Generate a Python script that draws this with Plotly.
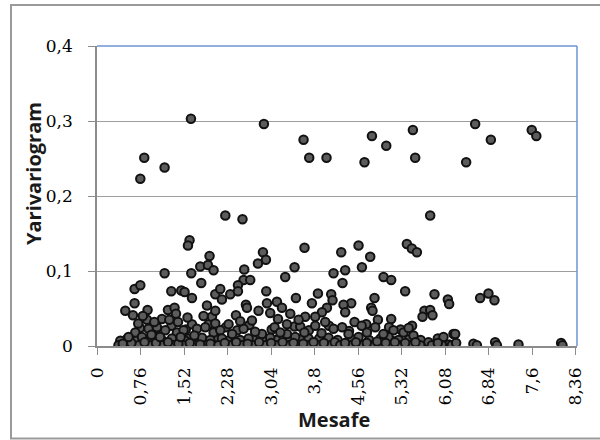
import plotly.graph_objects as go

# ---- data ----
high_x = [0.756, 0.825, 1.18, 1.64, 2.914, 3.606, 2.24, 2.54, 3.705, 4.007, 4.67, 4.80,
          5.05, 5.515, 5.555, 5.817, 6.445, 6.602, 6.876, 7.59, 7.67]
high_y = [0.223, 0.251, 0.238, 0.303, 0.296, 0.275, 0.174, 0.169, 0.251, 0.251, 0.245, 0.280,
          0.267, 0.288, 0.251, 0.174, 0.245, 0.296, 0.275, 0.288, 0.280]

r1_x = [1.616, 1.588, 1.965, 1.803, 1.937, 2.035, 1.646, 1.18, 1.82, 0.656, 0.756, 1.297,
        1.471, 1.529, 1.658, 2.065, 0.656, 1.92, 0.494, 0.628, 0.883, 1.239, 1.354, 1.379,
        0.873, 1.134, 1.262, 1.414, 1.658, 2.007, 2.065, 0.668, 0.90, 1.047, 1.192, 1.396,
        1.511, 1.745, 1.89, 2.035, 0.407, 0.785, 0.988, 1.309, 1.541, 1.833, 1.977,
        0.375, 0.524, 0.726, 0.93, 1.134, 1.337, 1.511, 1.716, 1.89, 2.065,
        0.45, 0.60, 0.83, 1.03, 1.24, 1.42, 1.62, 1.80, 1.98, 0.72, 0.95, 1.10, 1.46,
        1.70, 0.55, 0.80, 1.00, 1.58, 1.86]
r1_y = [0.141, 0.134, 0.120, 0.106, 0.108, 0.101, 0.097, 0.097, 0.084, 0.076, 0.081, 0.073,
        0.074, 0.072, 0.064, 0.069, 0.057, 0.054, 0.047, 0.041, 0.048, 0.048, 0.051, 0.043,
        0.035, 0.036, 0.035, 0.032, 0.029, 0.039, 0.030, 0.018, 0.023, 0.025, 0.021, 0.018,
        0.021, 0.023, 0.025, 0.018, 0.007, 0.012, 0.014, 0.010, 0.007, 0.011, 0.008,
        0.001, 0.001, 0.001, 0.001, 0.001, 0.001, 0.001, 0.001, 0.001, 0.001,
        0.003, 0.004, 0.005, 0.004, 0.005, 0.003, 0.004, 0.002, 0.003, 0.030, 0.015, 0.012, 0.012,
        0.014, 0.012, 0.040, 0.032, 0.038, 0.040]

r2_x = [3.623, 2.897, 2.949, 2.81, 3.449, 2.571, 3.286, 4.129, 2.559, 2.675, 2.461, 2.152,
        2.326, 2.461, 2.181, 2.955, 3.473, 3.857, 4.089, 3.752, 4.112, 2.60, 2.618, 2.967,
        3.141, 3.229, 4.014, 3.927, 2.065, 2.426, 2.82, 3.024, 3.374, 3.635, 3.81, 3.984,
        2.297, 2.705, 3.10, 3.316, 3.548, 3.81, 4.129, 2.152, 2.559, 2.88, 3.316, 2.181,
        2.646, 3.024, 3.46, 3.693, 4.042,
        2.122, 2.326, 2.53, 2.733, 2.937, 3.141, 3.344, 3.518, 3.693, 3.868, 4.071, 4.217,
        2.23, 2.43, 2.63, 2.83, 3.04, 3.24, 3.43, 3.60, 3.78, 3.96, 4.15, 2.36, 2.76, 3.20,
        3.62, 3.92, 2.50, 3.16, 3.52]
r2_y = [0.131, 0.125, 0.115, 0.110, 0.105, 0.102, 0.092, 0.097, 0.088, 0.088, 0.081, 0.076,
        0.069, 0.073, 0.062, 0.073, 0.064, 0.070, 0.069, 0.057, 0.061, 0.055, 0.051, 0.057,
        0.059, 0.051, 0.051, 0.045, 0.047, 0.041, 0.047, 0.044, 0.043, 0.039, 0.039, 0.032,
        0.029, 0.034, 0.025, 0.029, 0.026, 0.027, 0.023, 0.021, 0.023, 0.016, 0.016, 0.010,
        0.010, 0.011, 0.012, 0.010, 0.011,
        0.001, 0.001, 0.001, 0.001, 0.001, 0.001, 0.001, 0.001, 0.001, 0.001, 0.001, 0.001,
        0.004, 0.005, 0.003, 0.005, 0.004, 0.005, 0.004, 0.003, 0.005, 0.004, 0.005, 0.016, 0.019, 0.018,
        0.018, 0.017, 0.033, 0.036, 0.035]

r3_x = [4.566, 5.41, 5.497, 5.585, 4.264, 4.77, 4.625, 4.333, 4.286, 5.002, 5.136, 5.38,
        5.892, 6.125, 6.148, 4.845, 4.438, 4.304, 4.333, 4.787, 4.81, 5.717, 5.817, 5.683,
        5.857, 4.496, 4.904, 5.136, 4.391, 4.712, 4.857, 5.176, 5.351, 5.525, 6.049, 6.223,
        4.566, 5.089, 5.264, 5.787,
        4.246, 4.421, 4.625, 4.80, 4.974, 5.119, 5.293, 5.468, 5.643, 5.846, 6.021, 6.195,
        4.33, 4.52, 4.71, 4.89, 5.04, 5.20, 5.38, 5.56, 5.95, 4.28, 4.62, 5.00, 5.44]
r3_y = [0.134, 0.136, 0.130, 0.125, 0.125, 0.119, 0.105, 0.101, 0.084, 0.092, 0.088, 0.073,
        0.069, 0.062, 0.056, 0.064, 0.057, 0.055, 0.045, 0.051, 0.047, 0.047, 0.048, 0.039,
        0.041, 0.032, 0.035, 0.036, 0.016, 0.018, 0.025, 0.021, 0.018, 0.014, 0.012, 0.016,
        0.012, 0.012, 0.008, 0.005,
        0.001, 0.001, 0.001, 0.001, 0.001, 0.001, 0.001, 0.001, 0.001, 0.001, 0.001, 0.001,
        0.004, 0.005, 0.004, 0.006, 0.004, 0.005, 0.004, 0.005, 0.004, 0.025, 0.027, 0.016, 0.024]

r4_x = [6.689, 6.834, 6.939, 6.253, 6.572, 6.632, 6.951, 6.981, 7.358, 8.103, 8.126, 6.27]
r4_y = [0.064, 0.070, 0.061, 0.016, 0.003, 0.001, 0.005, 0.001, 0.002, 0.004, 0.001, 0.004]

# densely packed points along the bottom band
base_x = [0.47, 0.66, 0.87, 1.08, 1.29, 1.47, 1.67, 1.86, 2.02, 2.20, 2.40, 2.58, 2.78, 2.98,
          3.19, 3.39, 3.56, 3.74, 3.92, 4.11, 4.29, 4.47, 4.67, 4.85, 5.06, 5.24, 5.41, 5.60,
          5.80, 5.99, 6.15]
base_y = [0.002, 0.001, 0.002, 0.001, 0.002, 0.001, 0.002, 0.001, 0.002, 0.001, 0.002, 0.001,
          0.002, 0.001, 0.002, 0.001, 0.002, 0.001, 0.002, 0.001, 0.002, 0.001, 0.002, 0.001,
          0.002, 0.001, 0.002, 0.001, 0.002, 0.001, 0.002]
band_x = [0.52, 0.70, 0.92, 1.15, 1.40, 1.60, 1.76, 2.10, 2.28, 2.50, 2.72, 2.92, 3.13, 3.35,
          3.55, 3.88, 4.20, 4.45, 4.75, 4.95, 5.15, 5.45, 5.65, 5.95,
          0.75, 1.02, 1.30, 1.55, 1.95, 2.25, 2.45, 2.66, 3.05, 3.45, 3.70, 4.05, 4.40, 4.70,
          5.10, 5.30, 5.50]
band_y = [0.009, 0.008, 0.010, 0.007, 0.009, 0.010, 0.008, 0.009, 0.007, 0.008, 0.010, 0.009,
          0.008, 0.007, 0.009, 0.010, 0.008, 0.009, 0.008, 0.010, 0.007, 0.009, 0.008, 0.010,
          0.024, 0.020, 0.027, 0.022, 0.029, 0.025, 0.021, 0.028, 0.022, 0.026, 0.021, 0.027,
          0.020, 0.029, 0.025, 0.022, 0.027]

x_tick_vals = [0, 0.76, 1.52, 2.28, 3.04, 3.8, 4.56, 5.32, 6.08, 6.84, 7.6, 8.36]
x_tick_text = ["0", "0,76", "1,52", "2,28", "3,04", "3,8", "4,56", "5,32", "6,08", "6,84", "7,6", "8,36"]
y_tick_vals = [0, 0.1, 0.2, 0.3, 0.4]
y_tick_text = ["0", "0,1", "0,2", "0,3", "0,4"]
x_title = "Mesafe"
y_title = "Yarivariogram"

all_x = base_x + band_x + r1_x + r2_x + r3_x + r4_x + high_x
all_y = base_y + band_y + r1_y + r2_y + r3_y + r4_y + high_y

fig = go.Figure()
fig.add_trace(go.Scatter(
    x=all_x, y=all_y, mode="markers",
    marker=dict(size=8.5, color="#5c5c5c", line=dict(color="#111111", width=2)),
    showlegend=False, hoverinfo="skip"))

tick_font = dict(family="DejaVu Serif", size=17, color="#000000")
fig.update_layout(
    width=600, height=440,
    margin=dict(l=97, r=23, t=46, b=94, pad=0),
    paper_bgcolor="white", plot_bgcolor="white",
    xaxis=dict(range=[0, 8.38], tickvals=x_tick_vals, ticktext=x_tick_text,
               tickangle=-90, ticks="outside", ticklen=7, tickcolor="#8c8c8c", tickwidth=1,
               showline=True, linecolor="#8c8c8c", linewidth=1.5, showgrid=False,
               zeroline=False, tickfont=tick_font, ticklabelstandoff=6),
    yaxis=dict(range=[0, 0.4], tickvals=y_tick_vals, ticktext=y_tick_text,
               ticks="outside", ticklen=7, tickcolor="#8c8c8c", tickwidth=1,
               showline=True, linecolor="#8c8c8c", linewidth=1.5,
               showgrid=True, gridcolor="#9e9e9e", gridwidth=1,
               zeroline=False, tickfont=tick_font, ticklabelstandoff=12),
)

# plot-area border (top and right in blue)
fig.add_shape(type="line", xref="paper", yref="paper", x0=0, x1=1, y0=1, y1=1,
              line=dict(color="#6d95d2", width=1.5))
fig.add_shape(type="line", xref="paper", yref="paper", x0=1, x1=1, y0=0, y1=1,
              line=dict(color="#6d95d2", width=1.5))
# outer chart frame
fig.add_shape(type="rect", xref="paper", yref="paper",
              x0=(11 - 97) / 480, x1=(610 - 97) / 480,
              y0=(346 - 438.5) / 300, y1=(346 - 5) / 300,
              line=dict(color="#9a9a9a", width=2), fillcolor="rgba(0,0,0,0)")

title_font = dict(family="Open Sans", size=20, color="#1a1a1a")
fig.add_annotation(text="<b>" + x_title + "</b>", xref="paper", yref="paper",
                   x=(334 - 97) / 480, y=(346 - 419) / 300, showarrow=False,
                   xanchor="center", yanchor="middle", font=title_font)
fig.add_annotation(text="<b>" + y_title + "</b>", xref="paper", yref="paper",
                   x=(33 - 97) / 480, y=(346 - 174) / 300, showarrow=False,
                   textangle=-90, xanchor="center", yanchor="middle", font=title_font)

fig.write_html("out.html")
